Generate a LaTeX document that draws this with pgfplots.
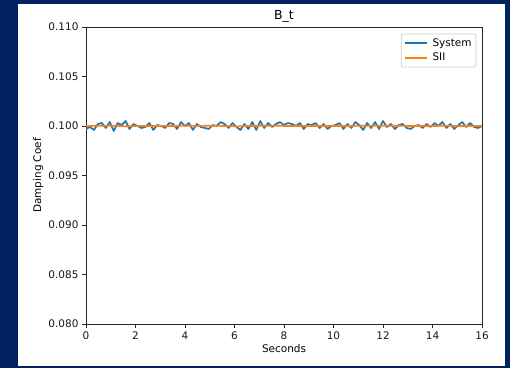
\documentclass[border=0pt]{standalone}
\usepackage{pgfplots}
\pgfplotsset{compat=1.18}
\usepackage{pgfplotstable}
\usepackage{fontspec}
\setmainfont{DejaVu Sans}
\definecolor{navybg}{RGB}{0,32,96}
\definecolor{mplblue}{HTML}{1F77B4}
\definecolor{mplorange}{HTML}{FF7F0E}

\pgfplotstableread{
x y
0.00 0.0997
0.16 0.0999
0.32 0.0996
0.48 0.1002
0.64 0.1003
0.80 0.0998
0.96 0.1004
1.12 0.0995
1.28 0.1003
1.44 0.1001
1.60 0.1005
1.76 0.0997
1.92 0.1002
2.08 0.1000
2.24 0.0998
2.40 0.0999
2.56 0.1003
2.72 0.0996
2.88 0.1001
3.04 0.1000
3.20 0.0998
3.36 0.1003
3.52 0.1002
3.68 0.0997
3.84 0.1004
4.00 0.1000
4.16 0.1003
4.32 0.0996
4.48 0.1002
4.64 0.0999
4.80 0.0998
4.96 0.0997
5.12 0.1001
5.28 0.1000
5.44 0.1004
5.60 0.1002
5.76 0.0998
5.92 0.1003
6.08 0.0999
6.24 0.0996
6.40 0.1002
6.56 0.0997
6.72 0.1004
6.88 0.0996
7.04 0.1005
7.20 0.0998
7.36 0.1003
7.52 0.0999
7.68 0.1002
7.84 0.1004
8.00 0.1001
8.16 0.1003
8.32 0.1002
8.48 0.1000
8.64 0.1003
8.80 0.0997
8.96 0.1002
9.12 0.1001
9.28 0.1003
9.44 0.0998
9.60 0.1002
9.76 0.0997
9.92 0.1000
10.08 0.1001
10.24 0.1003
10.40 0.0997
10.56 0.1002
10.72 0.0998
10.88 0.1004
11.04 0.1001
11.20 0.0996
11.36 0.1003
11.52 0.0998
11.68 0.1004
11.84 0.0997
12.00 0.1005
12.16 0.0999
12.32 0.1002
12.48 0.0997
12.64 0.1001
12.80 0.1002
12.96 0.0998
13.12 0.0997
13.28 0.1000
13.44 0.1001
13.60 0.0998
13.76 0.1002
13.92 0.0999
14.08 0.1003
14.24 0.1000
14.40 0.1004
14.56 0.0998
14.72 0.1002
14.88 0.0997
15.04 0.1001
15.20 0.1004
15.36 0.0999
15.52 0.1003
15.68 0.0999
15.84 0.0998
16.00 0.1000
}\systemdata

\pgfplotstableread{
x y
0.00 0.10000
0.50 0.10002
1.00 0.10003
1.30 0.10001
1.60 0.09998
2.00 0.09999
2.50 0.10000
3.00 0.10001
3.50 0.10000
4.00 0.10002
4.50 0.10001
5.00 0.10002
5.50 0.10001
5.80 0.09997
6.10 0.09996
6.40 0.09999
7.00 0.10002
7.50 0.10003
8.00 0.10001
8.50 0.10000
9.00 0.10001
9.50 0.10000
10.00 0.10001
10.50 0.10000
11.00 0.10002
11.50 0.10001
12.00 0.10002
12.50 0.10003
13.00 0.10001
13.50 0.09999
14.00 0.10000
14.50 0.10002
15.00 0.10001
15.50 0.10000
16.00 0.10001
}\siidata

\begin{document}
\fontsize{10.5}{12.6}\selectfont
\begin{tikzpicture}
\fill[navybg] (0,0) rectangle (510bp,368bp);
\fill[white] (18bp,2bp) rectangle (505bp,364bp);
\begin{axis}[
  at={(86bp,44bp)}, anchor=south west,
  scale only axis, width=396bp, height=297bp,
  xmin=0, xmax=16, ymin=0.080, ymax=0.110,
  xtick={0,2,...,16},
  ytick={0.080,0.085,0.090,0.095,0.100,0.105,0.110},
  /pgf/number format/assume math mode=true,
  yticklabel style={/pgf/number format/.cd, fixed, fixed zerofill, precision=3},
  xticklabel style={/pgf/number format/.cd, fixed},
  scaled y ticks=false,
  tick align=outside, tick pos=left,
  major tick length=3.9bp,
  axis line style={line width=0.9bp, black!85},
  every tick/.style={line width=0.9bp, black!85},
  ticklabel style={font=\fontsize{10.5}{12.6}\selectfont, text=black!90},
  title={B\_t},
  title style={font=\fontsize{12.5}{14}\selectfont, yshift=-5bp},
  xlabel={Seconds},
  ylabel={Damping Coef},
  label style={font=\fontsize{10.5}{12.6}\selectfont},
  xlabel style={yshift=2bp},
  ylabel style={yshift=-2bp},
  legend style={at={(0.986,0.978)}, anchor=north east,
    draw=black!20, line width=0.8bp, rounded corners=2bp,
    font=\fontsize{10.5}{12.6}\selectfont, inner xsep=3bp, inner ysep=3bp,
    row sep=2.4bp, nodes={inner sep=1.5bp},
    /tikz/every odd column/.append style={column sep=3bp}},
  legend cell align=left,
  legend image code/.code={\draw[#1, line width=1.8bp] (0bp,0bp) -- (22bp,0bp);},
]
\addplot[mplblue, line width=1.7bp, line join=round] table[x=x,y=y] {\systemdata};
\addlegendentry{System}
\addplot[mplorange, line width=1.7bp, line join=round] table[x=x,y=y] {\siidata};
\addlegendentry{SII}
\end{axis}
\end{tikzpicture}
\end{document}
